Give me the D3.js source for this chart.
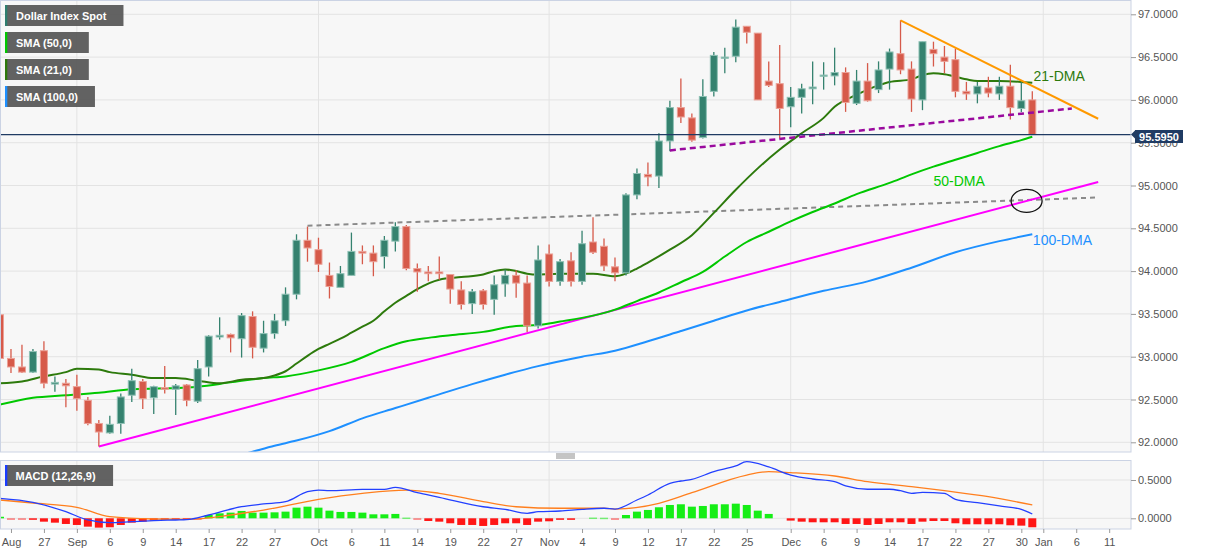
<!DOCTYPE html>
<html><head><meta charset="utf-8">
<script src="https://cdn.jsdelivr.net/npm/d3@7/dist/d3.min.js"></script>
<style>
html,body{margin:0;padding:0;background:#fff;}
svg{display:block;font-family:"Liberation Sans",Arial,Helvetica,sans-serif;}
</style></head><body>
<svg id="chart" width="1207" height="555"></svg>
<script>
// ---------------- DATA ----------------
// candle index 0 = 23 Aug 2021 ... 94 = 31 Dec 2021 (trading days)
const opens  = [93.49,92.98,92.88,92.82,93.07,92.68,92.69,92.65,92.49,92.22,92.11,92.22,92.55,92.71,92.52,92.64,92.62,92.67,92.48,92.88,93.23,93.26,93.21,93.47,93.10,93.27,93.42,93.73,94.36,94.25,93.95,93.81,93.95,94.23,94.21,94.17,94.35,94.52,94.03,93.99,93.99,93.96,93.78,93.62,93.77,93.67,93.85,93.95,93.86,93.36,94.20,93.88,94.12,93.88,94.34,94.29,94.05,93.98,94.89,95.13,95.11,95.52,95.91,95.79,95.56,96.10,96.49,96.51,96.86,96.78,96.22,96.19,95.92,96.03,96.13,96.28,96.28,96.32,95.96,96.22,96.12,96.36,96.54,96.36,96.00,96.59,96.50,96.47,96.10,96.07,96.14,96.07,96.16,95.90,96.00];
const highs  = [93.52,93.09,93.14,93.09,93.18,92.77,92.74,92.79,92.53,92.26,92.31,92.57,92.86,92.74,92.66,92.89,92.68,92.68,92.96,93.25,93.46,93.27,93.51,93.53,93.42,93.50,93.81,94.43,94.52,94.39,94.10,94.06,94.45,94.30,94.30,94.41,94.57,94.54,94.09,94.06,94.17,93.96,93.88,93.79,93.79,93.95,94.02,94.01,93.95,94.30,94.31,94.14,94.22,94.47,94.63,94.38,94.16,94.91,95.20,95.27,95.61,95.99,96.25,95.84,96.24,96.56,96.61,96.94,96.86,96.78,96.45,96.64,96.15,96.19,96.45,96.44,96.61,96.38,96.35,96.43,96.45,96.60,96.93,96.45,96.68,96.68,96.63,96.60,96.21,96.21,96.27,96.27,96.41,96.21,96.10];
const lows   = [92.95,92.81,92.81,92.81,92.63,92.59,92.41,92.37,92.20,91.95,92.10,92.10,92.47,92.39,92.33,92.57,92.32,92.42,92.46,92.77,93.20,93.05,92.99,92.98,93.05,93.21,93.36,93.67,94.11,93.99,93.68,93.81,93.95,94.08,93.94,94.03,94.23,94.01,93.76,93.88,93.90,93.62,93.55,93.50,93.55,93.49,93.70,93.69,93.29,93.33,93.82,93.83,93.82,93.84,94.20,94.00,93.88,93.95,94.84,94.99,94.97,95.40,95.73,95.51,95.55,96.04,96.31,96.44,96.66,96.00,96.15,95.55,95.68,95.84,95.95,96.12,96.17,95.86,95.94,95.98,96.08,96.12,96.30,95.86,95.88,96.39,96.31,96.03,96.00,95.96,96.03,96.00,95.77,95.86,95.595];
const closes = [92.98,92.88,92.82,93.06,92.69,92.70,92.66,92.51,92.22,92.12,92.21,92.53,92.72,92.51,92.65,92.62,92.66,92.49,92.86,93.24,93.25,93.22,93.48,93.11,93.27,93.42,93.73,94.36,94.27,94.08,93.82,93.97,94.23,94.21,94.11,94.36,94.52,94.03,93.99,93.97,93.97,93.79,93.61,93.76,93.61,93.84,93.95,93.86,93.36,94.13,93.88,94.11,93.88,94.32,94.22,94.06,93.98,94.89,95.14,95.10,95.52,95.91,95.80,95.53,96.04,96.52,96.50,96.85,96.79,96.00,96.17,95.90,96.03,96.13,96.15,96.29,96.32,95.97,96.22,95.99,96.35,96.56,96.35,96.01,96.68,96.54,96.45,96.10,96.07,96.16,96.08,96.16,95.91,95.99,95.595];
const lastPrice = 95.595;

// moving averages (sampled at candle indices)
const sma21Idx = [0,2,4,6,7,9,10,12,14,16,18,20,22,24,25,26,27,28,29,30,31,32,33,34,35,36,37,38,40,42,44,45,46,47,48,49,51,54,56,57,58,59,61,63,65,67,69,71,73,75,76,78,80,81,83,84,85,86,88,89,91,93,94];
const sma21Val = [92.69,92.71,92.77,92.82,92.86,92.85,92.82,92.79,92.75,92.75,92.72,92.69,92.73,92.75,92.78,92.83,92.92,93.01,93.09,93.15,93.21,93.28,93.35,93.42,93.53,93.63,93.71,93.79,93.90,93.93,93.96,94.00,94.02,94.00,93.97,93.96,93.97,93.97,93.94,93.97,94.03,94.10,94.25,94.42,94.68,94.95,95.20,95.42,95.61,95.79,95.92,96.06,96.17,96.21,96.24,96.29,96.31,96.30,96.24,96.22,96.22,96.21,96.20];
const sma50Idx = [0,3,6,9,12,15,18,21,24,26,29,32,35,37,39,41,44,47,49,51,54,56,58,60,62,64,66,68,70,72,74,76,78,81,83,85,87,89,91,93,94];
const sma50Val = [92.44,92.52,92.55,92.58,92.62,92.63,92.65,92.70,92.75,92.77,92.84,92.94,93.10,93.18,93.22,93.25,93.29,93.36,93.37,93.41,93.48,93.55,93.65,93.75,93.87,93.99,94.17,94.34,94.46,94.58,94.69,94.79,94.90,95.03,95.13,95.22,95.30,95.38,95.46,95.53,95.57];
const sma100Idx = [21,23,25,27,30,33,36,39,43,46,49,53,56,59,62,65,68,71,75,79,83,87,91,94];
const sma100Val = [91.82,91.89,91.96,92.02,92.13,92.28,92.40,92.52,92.68,92.79,92.89,93.00,93.07,93.18,93.30,93.42,93.54,93.64,93.77,93.88,94.04,94.22,94.35,94.43];

// hand-drawn lines: [startIdx, startVal, endIdx, endVal]
const supportLine   = [9, 91.95, 100, 95.04];   // magenta
const greyDashLine  = [28, 94.53, 100, 94.86];  // grey dashed
const purpleDash    = [61, 95.41, 97.6, 95.90]; // purple dashed
const resistLine    = [82, 96.93, 100, 95.78];  // orange
const circleAt      = [93.48, 94.82];

// MACD (12,26,9)
const macdIdx = [0,3,6,8,10,12,14,16,17,19,22,24,26,28,29,30,33,35,36,38,40,44,46,48,49,51,53,55,56,58,59,61,62,63,65,67,68,70,72,74,76,77,79,81,82,83,84,86,87,89,91,93,94];
const macdVal = [0.261,0.209,0.086,-0.022,-0.057,-0.044,-0.031,-0.022,-0.018,0.043,0.151,0.187,0.217,0.347,0.369,0.360,0.378,0.378,0.404,0.334,0.274,0.151,0.117,0.065,0.086,0.095,0.117,0.131,0.121,0.239,0.304,0.457,0.487,0.509,0.609,0.683,0.739,0.670,0.565,0.513,0.478,0.422,0.379,0.379,0.360,0.326,0.339,0.326,0.248,0.204,0.161,0.117,0.056];
const signalIdx = [0,3,7,10,14,17,21,24,29,33,37,40,44,47,51,55,56,60,63,68,70,72,76,79,83,86,90,94];
const signalVal = [0.239,0.200,0.144,0.021,-0.009,-0.013,0.043,0.108,0.248,0.326,0.369,0.326,0.217,0.151,0.131,0.131,0.121,0.196,0.334,0.565,0.609,0.596,0.552,0.478,0.413,0.360,0.282,0.174];
const histVal = [0.02,-0.01,-0.01,-0.015,-0.044,-0.057,-0.074,-0.087,-0.109,-0.122,-0.117,-0.087,-0.057,-0.044,-0.030,-0.022,-0.022,-0.022,-0.005,0.043,0.065,0.074,0.096,0.074,0.074,0.078,0.087,0.139,0.152,0.139,0.100,0.083,0.083,0.074,0.052,0.052,0.057,0.010,-0.010,-0.035,-0.044,-0.065,-0.087,-0.087,-0.100,-0.087,-0.065,-0.065,-0.087,-0.044,-0.039,-0.020,-0.020,0.000,0.010,0.008,-0.008,0.043,0.087,0.109,0.144,0.174,0.183,0.152,0.161,0.183,0.183,0.191,0.174,0.100,0.057,0.000,-0.030,-0.044,-0.052,-0.052,-0.052,-0.074,-0.074,-0.087,-0.074,-0.052,-0.052,-0.074,-0.044,-0.035,-0.035,-0.065,-0.078,-0.078,-0.078,-0.078,-0.091,-0.096,-0.117];

// axes
const priceTicks = [92,92.5,93,93.5,94,94.5,95,95.5,96,96.5,97];
const macdTicks = [0,0.5];
const xTickIdx    = [1,4,7,10,13,16,19,22,25,29,32,35,38,41,44,47,50,53,56,59,62,65,68,72,75,78,81,84,87,90,93,95,98,101];
const xTickLabels = ["Aug","27","Sep","6","9","14","17","22","27","Oct","6","11","14","19","22","27","Nov","4","9","12","17","22","25","Dec","6","9","14","17","22","27","30","Jan","6","11"];
const monthIdx = [7,29,50,72,95];
const legendNames = ["Dollar Index Spot","SMA (50,0)","SMA (21,0)","SMA (100,0)"];
const macdLegend = "MACD (12,26,9)";
const maLabels = ["21-DMA","50-DMA","100-DMA"];

// ---------------- LAYOUT ----------------
const plotR = 1131, mainTop = 1, mainBot = 452, macdTop = 461, macdBot = 529;
const x  = d3.scaleLinear().domain([0,94]).range([0,1032.3]);
const y  = d3.scaleLinear().domain([92,97]).range([442.3,14.3]);
const ym = d3.scaleLinear().domain([0,0.5]).range([518.3,480]);

const svg = d3.select('#chart');
const defs = svg.append('defs');
defs.append('clipPath').attr('id','clipMain').append('rect')
  .attr('x',0).attr('y',mainTop).attr('width',plotR).attr('height',mainBot-mainTop);
defs.append('clipPath').attr('id','clipMacd').append('rect')
  .attr('x',0).attr('y',macdTop).attr('width',plotR).attr('height',macdBot-macdTop);

// panel backgrounds
svg.append('rect').attr('x',0).attr('y',mainTop).attr('width',plotR).attr('height',mainBot-mainTop).attr('fill','#f7f7f7');
svg.append('rect').attr('x',0).attr('y',macdTop).attr('width',plotR).attr('height',macdBot-macdTop).attr('fill','#f7f7f7');

const gridC = '#e3e3e3';
const gMain = svg.append('g').attr('clip-path','url(#clipMain)');
gMain.selectAll('line.hg').data(priceTicks).join('line')
  .attr('x1',0).attr('x2',plotR).attr('y1',d=>y(d)).attr('y2',d=>y(d))
  .attr('stroke',gridC).attr('stroke-width',1);
gMain.selectAll('line.vg').data(monthIdx).join('line')
  .attr('x1',d=>x(d)).attr('x2',d=>x(d)).attr('y1',mainTop).attr('y2',mainBot)
  .attr('stroke',gridC).attr('stroke-width',1);

const gMacd = svg.append('g').attr('clip-path','url(#clipMacd)');
gMacd.selectAll('line.hg').data(macdTicks).join('line')
  .attr('x1',0).attr('x2',plotR).attr('y1',d=>ym(d)).attr('y2',d=>ym(d))
  .attr('stroke',gridC).attr('stroke-width',1);
gMacd.selectAll('line.vg').data(monthIdx).join('line')
  .attr('x1',d=>x(d)).attr('x2',d=>x(d)).attr('y1',macdTop).attr('y2',macdBot)
  .attr('stroke',gridC).attr('stroke-width',1);

// ---------------- MAIN PANEL ----------------
const seg = (a, color, w, dash) => {
  gMain.append('line')
    .attr('x1',x(a[0])).attr('y1',y(a[1])).attr('x2',x(a[2])).attr('y2',y(a[3]))
    .attr('stroke',color).attr('stroke-width',w).attr('stroke-dasharray',dash||null);
};
seg(greyDashLine,'#8a8a8a',2,'5,4');

const maLine = d3.line().x(d=>x(d[0])).y(d=>y(d[1])).curve(d3.curveMonotoneX);
const drawMA = (idx, val, color, w) => gMain.append('path')
  .attr('d', maLine(idx.map((d,i)=>[d,val[i]])))
  .attr('fill','none').attr('stroke',color).attr('stroke-width',w).attr('stroke-linejoin','round');

drawMA(sma100Idx, sma100Val, '#1e90ff', 2);
seg(supportLine,'#ff00ff',2);
drawMA(sma50Idx, sma50Val, '#00c800', 2);
drawMA(sma21Idx, sma21Val, '#2d7a0c', 2);

// candles
const up = '#35826f', dn = '#d65a4a', upS = '#8fc1b5', dnS = '#eba197';
const cidx = d3.range(opens.length);
const cg = gMain.append('g');
cg.selectAll('line.w').data(cidx).join('line')
  .attr('x1',i=>x(i)).attr('x2',i=>x(i))
  .attr('y1',i=>y(highs[i])).attr('y2',i=>y(lows[i]))
  .attr('stroke',i=>closes[i]>=opens[i]?up:dn).attr('stroke-width',1.3);
cg.selectAll('rect.b').data(cidx).join('rect')
  .attr('x',i=>x(i)-3.5).attr('width',7)
  .attr('y',i=>y(Math.max(opens[i],closes[i])))
  .attr('height',i=>Math.max(1.2, Math.abs(y(opens[i])-y(closes[i]))))
  .attr('fill',i=>closes[i]>=opens[i]?up:dn)
  .attr('stroke',i=>closes[i]>=opens[i]?upS:dnS).attr('stroke-width',1);

seg(purpleDash,'#9a0a9e',2.5,'6,4');
seg(resistLine,'#ff9900',2);

// ellipse marker
gMain.append('ellipse').attr('cx',x(circleAt[0])).attr('cy',y(circleAt[1]))
  .attr('rx',15.5).attr('ry',11.5).attr('fill','none').attr('stroke','#111').attr('stroke-width',1.3);

// MA labels
const maLabelPos = [[94.1,96.22,'#2d7a0c'],[85,94.99,'#00c800'],[94.05,94.30,'#1e90ff']];
svg.selectAll('text.ma').data(maLabels).join('text')
  .attr('x',(d,i)=>x(maLabelPos[i][0])).attr('y',(d,i)=>y(maLabelPos[i][1]))
  .attr('fill',(d,i)=>maLabelPos[i][2]).attr('font-size',14).text(d=>d);

// last price line
gMain.append('line').attr('x1',0).attr('x2',plotR).attr('y1',y(lastPrice)).attr('y2',y(lastPrice))
  .attr('stroke','#1f3b63').attr('stroke-width',1.2);

// ---------------- MACD PANEL ----------------
gMacd.selectAll('rect.h').data(cidx).join('rect')
  .attr('x',i=>x(i)-4).attr('width',8)
  .attr('y',i=>histVal[i]>=0 ? ym(histVal[i]) : ym(0))
  .attr('height',i=>{const h=Math.abs(ym(histVal[i])-ym(0)); return histVal[i]===0?0:Math.max(1.5,h);})
  .attr('fill',i=>histVal[i]>=0?'#16ee16':'#ff1616')
  .attr('opacity',i=>Math.abs(histVal[i])<0.012?0.55:1);

const mLine = d3.line().x(d=>x(d[0])).y(d=>ym(d[1])).curve(d3.curveMonotoneX);
gMacd.append('path').attr('d',mLine(signalIdx.map((d,i)=>[d,signalVal[i]])))
  .attr('fill','none').attr('stroke','#ff7f1e').attr('stroke-width',1.3);
gMacd.append('path').attr('d',mLine(macdIdx.map((d,i)=>[d,macdVal[i]])))
  .attr('fill','none').attr('stroke','#2340ff').attr('stroke-width',1.3);

// ---------------- BORDERS ----------------
const borderC = '#cbd3e4';
svg.append('rect').attr('x',0.5).attr('y',mainTop-0.5).attr('width',plotR-0.5).attr('height',mainBot-mainTop+0.5)
  .attr('fill','none').attr('stroke',borderC);
svg.append('rect').attr('x',0.5).attr('y',macdTop-0.5).attr('width',plotR-0.5).attr('height',macdBot-macdTop+0.5)
  .attr('fill','none').attr('stroke',borderC);
// panel resize handle
svg.selectAll('line.hd').data([0,2,4]).join('line')
  .attr('x1',556).attr('x2',575).attr('y1',d=>454+d).attr('y2',d=>454+d)
  .attr('stroke','#8a8a8a').attr('stroke-width',1);

// ---------------- AXES ----------------
const styleAxis = g => {
  g.select('.domain').remove();
  g.selectAll('.tick line').attr('stroke','#9a9a9a');
  g.selectAll('.tick text').attr('fill','#555').attr('font-size',11)
    .attr('font-family','"Liberation Sans",Arial,sans-serif');
};
svg.append('g').attr('transform',`translate(${plotR},0)`)
  .call(d3.axisRight(y).tickValues(priceTicks).tickFormat(d3.format('.4f')).tickSize(5).tickPadding(2))
  .call(styleAxis);
svg.append('g').attr('transform',`translate(${plotR},0)`)
  .call(d3.axisRight(ym).tickValues(macdTicks).tickFormat(d3.format('.4f')).tickSize(5).tickPadding(2))
  .call(styleAxis);
svg.append('g').attr('transform',`translate(0,${macdBot})`)
  .call(d3.axisBottom(x).tickValues(xTickIdx).tickFormat((d,i)=>xTickLabels[i]).tickSize(4).tickPadding(5))
  .call(styleAxis);

// last price tag
const py = y(lastPrice);
const tag = svg.append('g');
tag.append('path').attr('d',`M${plotR},${py} L${plotR+4},${py-4} L${plotR+4},${py-4.5} L${plotR+52},${py-4.5} L${plotR+52},${py+8.5} L${plotR+4},${py+8.5} L${plotR+4},${py+4} Z`)
  .attr('fill','#1f3b63');
tag.append('text').attr('x',plotR+28).attr('y',py+6).attr('text-anchor','middle')
  .attr('fill','#fff').attr('font-size',11).attr('font-weight','bold').text(d3.format('.4f')(lastPrice));

// ---------------- LEGENDS ----------------
const legColors = ['#2e7d6e','#00c800','#2d7a0c','#1e90ff'];
const legY = [5,32,59,86];
legendNames.forEach((name,i)=>{
  const g = svg.append('g');
  const r = g.append('rect').attr('x',5).attr('y',legY[i]).attr('height',21).attr('fill','#5a5a5a').attr('opacity',0.95);
  const t = g.append('text').attr('x',16).attr('y',legY[i]+14.5).attr('fill','#fff')
    .attr('font-size',11).attr('font-weight','bold').text(name);
  r.attr('width', t.node().getComputedTextLength()+28);
  g.append('rect').attr('x',5).attr('y',legY[i]).attr('width',2.3).attr('height',21).attr('fill',legColors[i]);
});
{
  const g = svg.append('g');
  const r = g.append('rect').attr('x',5).attr('y',465).attr('height',21).attr('fill','#5a5a5a').attr('opacity',0.95);
  const t = g.append('text').attr('x',15.5).attr('y',479.5).attr('fill','#fff')
    .attr('font-size',11).attr('font-weight','bold').text(macdLegend);
  r.attr('width', t.node().getComputedTextLength()+28);
  g.append('rect').attr('x',5).attr('y',465).attr('width',2.3).attr('height',21).attr('fill','#1a3cff');
}
</script>
</body></html>
